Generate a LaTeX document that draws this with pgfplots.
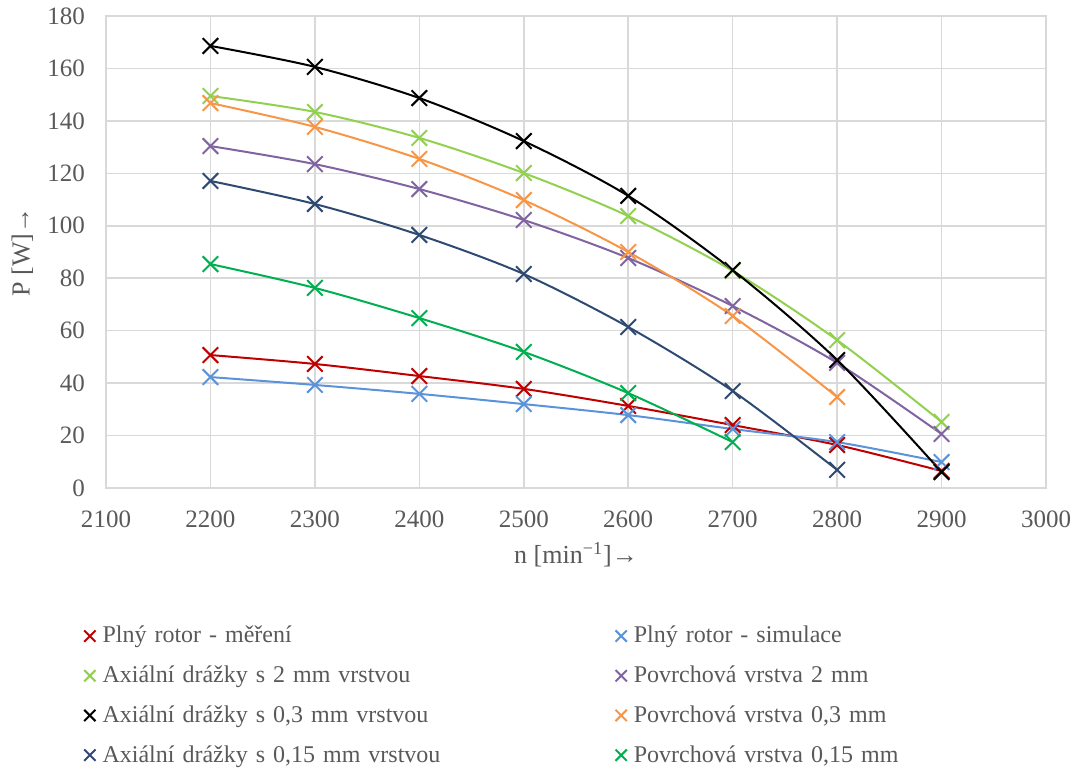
\documentclass[border=0pt]{standalone}
\usepackage{fontspec}
\setmainfont{Liberation Serif}
\usepackage{pgfplots}
\pgfplotsset{compat=1.18}
\definecolor{cred}{HTML}{C00000}
\definecolor{cblue}{HTML}{5B93DA}
\definecolor{clgreen}{HTML}{92D050}
\definecolor{cpurple}{HTML}{8064A2}
\definecolor{corange}{HTML}{F79646}
\definecolor{cdblue}{HTML}{2E4A72}
\definecolor{cgreen}{HTML}{00B050}
\definecolor{gridgray}{HTML}{D9D9D9}
\definecolor{tickgray}{HTML}{595959}
\begin{document}
\begin{tikzpicture}
\begin{axis}[
  scale only axis, width=470pt, height=236pt,
  xmin=2100, xmax=3000, ymin=0, ymax=180,
  xtick distance=100, ytick distance=20,
  grid=major, major grid style={color=gridgray, line width=0.8pt},
  axis line style={gridgray, line width=0.8pt},
  tick style={draw=none},
  scaled ticks=false,
  /pgf/number format/assume math mode=true,
  /pgf/number format/1000 sep={},
  ticklabel style={font=\fontsize{12.5}{14}\selectfont, text=tickgray},
  yticklabel style={xshift=-7pt},
  xticklabel style={yshift=-8pt},
  xlabel={n [min\textsuperscript{−1}]→},
  ylabel={P [W]→},
  label style={font=\fontsize{13}{15}\selectfont, text=tickgray},
  xlabel style={at={(axis description cs:0.5,-0.142)}, anchor=center},
  ylabel style={at={(axis description cs:-0.089,0.5)}, anchor=center},
  every axis plot/.append style={line width=1pt, mark=x, mark size=5.5pt, smooth, mark options={solid, line width=1pt}},
  legend columns=2,
  legend style={at={(axis description cs:-0.03,-0.275)}, anchor=north west, draw=none, fill=none,
    font=\fontsize{12}{14}\selectfont, text=tickgray, row sep=6pt,
    cells={anchor=west}, nodes={text width=253pt, align=left, inner xsep=3.5pt}},
  legend image code/.code={\draw[#1, mark size=4pt] plot[only marks] coordinates {(0pt,0pt)};},
]
\coordinate (sw) at (rel axis cs:0,0);
\coordinate (ne) at (rel axis cs:1,1);
\addplot[cred] coordinates {(2200,50.7)(2300,47.3)(2400,42.7)(2500,37.8)(2600,31.3)(2700,24.0)(2800,16.4)(2900,6.5)};
\addlegendentry{Plný rotor - měření}
\addplot[cblue] coordinates {(2200,42.3)(2300,39.3)(2400,35.9)(2500,32.0)(2600,27.8)(2700,22.5)(2800,17.5)(2900,9.9)};
\addlegendentry{Plný rotor - simulace}
\addplot[clgreen] coordinates {(2200,149.5)(2300,143.4)(2400,133.5)(2500,120.1)(2600,103.7)(2700,82.8)(2800,56.4)(2900,25.2)};
\addlegendentry{Axiální drážky s 2 mm vrstvou}
\addplot[cpurple] coordinates {(2200,130.4)(2300,123.5)(2400,114.0)(2500,102.2)(2600,87.7)(2700,69.4)(2800,47.7)(2900,20.6)};
\addlegendentry{Povrchová vrstva 2 mm}
\addplot[black] coordinates {(2200,168.6)(2300,160.6)(2400,148.7)(2500,132.3)(2600,111.4)(2700,83.1)(2800,48.8)(2900,6.1)};
\addlegendentry{Axiální drážky s 0,3 mm vrstvou}
\addplot[corange] coordinates {(2200,146.8)(2300,137.7)(2400,125.5)(2500,109.8)(2600,90.0)(2700,65.6)(2800,34.7)};
\addlegendentry{Povrchová vrstva 0,3 mm}
\addplot[cdblue] coordinates {(2200,117.1)(2300,108.3)(2400,96.5)(2500,81.6)(2600,61.4)(2700,37.0)(2800,6.9)};
\addlegendentry{Axiální drážky s 0,15 mm vrstvou}
\addplot[cgreen] coordinates {(2200,85.4)(2300,76.3)(2400,64.8)(2500,51.9)(2600,36.2)(2700,17.5)};
\addlegendentry{Povrchová vrstva 0,15 mm}
\end{axis}
\pgfresetboundingbox
\path ([shift={(-53pt,-141.5pt)}]sw) rectangle ([shift={(18pt,8pt)}]ne);
\end{tikzpicture}
\end{document}
